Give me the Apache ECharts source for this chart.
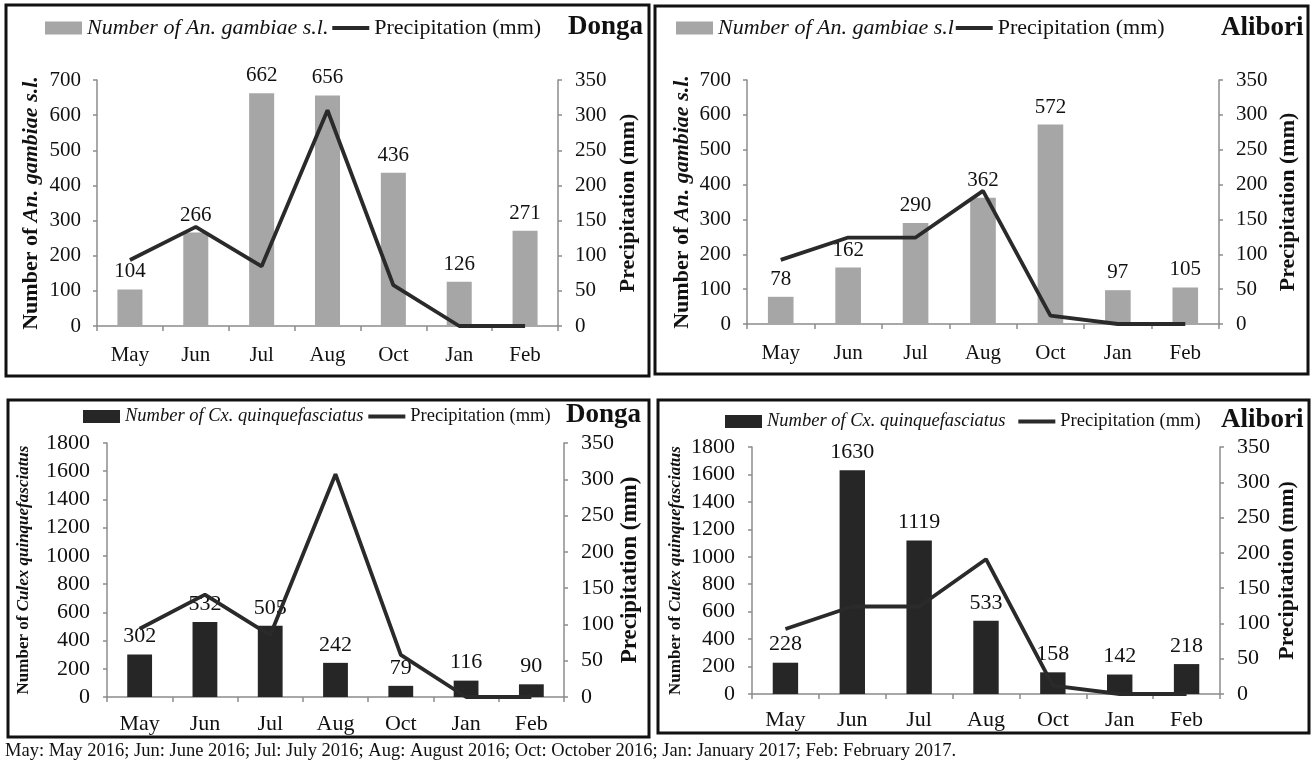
<!DOCTYPE html>
<html>
<head>
<meta charset="utf-8">
<script src="https://cdn.jsdelivr.net/npm/echarts@6/dist/echarts.min.js"></script>
<style>
html,body{margin:0;padding:0;background:#fff;}
#chart{width:1314px;height:768px;}
</style>
</head>
<body>
<div id="chart"></div>
<script>
// ---- data ----
const categories = ['May', 'Jun', 'Jul', 'Aug', 'Oct', 'Jan', 'Feb'];
const anDonga = [104, 266, 662, 656, 436, 126, 271];
const anAlibori = [78, 162, 290, 362, 572, 97, 105];
const cxDonga = [302, 532, 505, 242, 79, 116, 90];
const cxAlibori = [228, 1630, 1119, 533, 158, 142, 218];
const precipDonga = [94, 141, 85, 307, 58, 0, 0];
const precipAlibori = [92, 124, 124, 191, 12, 0, 0];
const anTicks = [0, 100, 200, 300, 400, 500, 600, 700];
const cxTicks = [0, 200, 400, 600, 800, 1000, 1200, 1400, 1600, 1800];
const precipTicks = [0, 50, 100, 150, 200, 250, 300, 350];
const footnote = 'May: May 2016; Jun: June 2016; Jul: July 2016; Aug: August 2016; Oct: October 2016; Jan: January 2017; Feb: February 2017.';

const FONT = '"Liberation Serif", "Times New Roman", serif';
const AXIS_GRAY = '#8c8c8c';
const INK = '#111';
const LINE_COLOR = '#2a2a2a';

const panels = [
  { grid: {left: 97, top: 80, width: 461, height: 246}, bars: anDonga, precip: precipDonga, ticks: anTicks,
    barName: 'Number of An. gambiae s.l.', barColor: '#a6a6a6', place: 'Donga',
    leftName: '{b|Number of }{bi|An. gambiae s.l.}', leftSize: 22, leftGap: 55, rightGap: 59, rightSize: 22,
    fs: 21, lblMargin: 16, xMargin: 19, rMargin: 17,
    legend: {left: 45, top: 17, fs: 22, gap: 2}, title: {left: 568, top: 14} },
  { grid: {left: 747, top: 80, width: 472, height: 244}, bars: anAlibori, precip: precipAlibori, ticks: anTicks,
    barName: 'Number of An. gambiae s.l', barColor: '#a6a6a6', place: 'Alibori',
    leftName: '{b|Number of }{bi|An. gambiae s.l.}', leftSize: 22, leftGap: 54, rightGap: 58, rightSize: 22,
    fs: 21, lblMargin: 16, xMargin: 19, rMargin: 17,
    legend: {left: 676, top: 17, fs: 22, gap: 0}, title: {left: 1221, top: 15} },
  { grid: {left: 107, top: 443, width: 457, height: 254}, bars: cxDonga, precip: precipDonga, ticks: cxTicks,
    barName: 'Number of Cx. quinquefasciatus', barColor: '#262626', place: 'Donga',
    leftName: '{b|Number of }{bi|Culex quinquefasciatus}', leftSize: 17, leftGap: 75, rightGap: 55, rightSize: 23,
    fs: 22, lblMargin: 17, xMargin: 16, rMargin: 17,
    legend: {left: 83, top: 407, fs: 18.5, gap: 3}, title: {left: 566, top: 402} },
  { grid: {left: 752, top: 447, width: 468, height: 247}, bars: cxAlibori, precip: precipAlibori, ticks: cxTicks,
    barName: 'Number of Cx. quinquefasciatus', barColor: '#262626', place: 'Alibori',
    leftName: '{b|Number of }{bi|Culex quinquefasciatus}', leftSize: 17, leftGap: 68, rightGap: 56, rightSize: 22,
    fs: 22, lblMargin: 17, xMargin: 15, rMargin: 17,
    legend: {left: 725, top: 412, fs: 18.5, gap: 11}, title: {left: 1221, top: 407} }
];

const grids = [], xAxes = [], yAxes = [], series = [], legends = [], titles = [];

panels.forEach((p, i) => {
  grids.push(Object.assign({containLabel: false, outerBoundsMode: 'none'}, p.grid));
  xAxes.push({
    type: 'category', gridIndex: i, data: categories,
    axisLine: {lineStyle: {color: AXIS_GRAY, width: 1.5}},
    axisTick: {show: true, length: 5, lineStyle: {color: AXIS_GRAY, width: 1.5}},
    axisLabel: {color: INK, fontFamily: FONT, fontSize: p.fs, margin: p.xMargin},
    splitLine: {show: false}
  });
  yAxes.push({
    type: 'value', gridIndex: i, position: 'left',
    min: p.ticks[0], max: p.ticks[p.ticks.length - 1], interval: p.ticks[1] - p.ticks[0],
    axisLine: {show: true, lineStyle: {color: AXIS_GRAY, width: 1.5}},
    axisTick: {show: true, length: 4, lineStyle: {color: AXIS_GRAY, width: 1.5}},
    axisLabel: {color: INK, fontFamily: FONT, fontSize: p.fs, margin: p.lblMargin, formatter: v => String(v)},
    splitLine: {show: false},
    name: p.leftName, nameLocation: 'middle', nameRotate: 90, nameGap: p.leftGap, nameMoveOverlap: false,
    nameTextStyle: {
      color: INK, fontFamily: FONT, fontSize: p.leftSize, fontWeight: 'bold',
      rich: {
        b: {fontFamily: FONT, fontSize: p.leftSize, fontWeight: 'bold', color: INK},
        bi: {fontFamily: FONT, fontSize: p.leftSize, fontWeight: 'bold', fontStyle: 'italic', color: INK}
      }
    }
  });
  yAxes.push({
    type: 'value', gridIndex: i, position: 'right',
    min: precipTicks[0], max: precipTicks[precipTicks.length - 1], interval: precipTicks[1] - precipTicks[0],
    axisLine: {show: true, lineStyle: {color: AXIS_GRAY, width: 1.5}},
    axisTick: {show: true, length: 4, lineStyle: {color: AXIS_GRAY, width: 1.5}},
    axisLabel: {color: INK, fontFamily: FONT, fontSize: p.fs, margin: p.rMargin, formatter: v => String(v)},
    splitLine: {show: false},
    name: 'Precipitation (mm)', nameLocation: 'middle', nameRotate: 90, nameGap: p.rightGap, nameMoveOverlap: false,
    nameTextStyle: {color: INK, fontFamily: FONT, fontSize: p.rightSize, fontWeight: 'bold'}
  });
  series.push({
    type: 'bar', name: p.barName, xAxisIndex: i, yAxisIndex: i * 2, data: p.bars,
    barWidth: '38%', itemStyle: {color: p.barColor},
    label: {show: true, position: 'top', distance: 7, color: INK, fontFamily: FONT, fontSize: p.fs},
    z: 2
  });
  series.push({
    type: 'line', name: 'Precipitation (mm)', xAxisIndex: i, yAxisIndex: i * 2 + 1, data: p.precip,
    symbol: 'none', showSymbol: false,
    lineStyle: {color: LINE_COLOR, width: 3.8}, itemStyle: {color: LINE_COLOR},
    z: 3
  });
  legends.push({
    left: p.legend.left, top: p.legend.top, orient: 'horizontal', itemGap: p.legend.gap, padding: 0,
    itemWidth: 37, itemHeight: 13,
    textStyle: {color: INK, fontFamily: FONT, fontSize: p.legend.fs},
    data: [
      {name: p.barName, icon: 'rect', textStyle: {fontStyle: 'italic', fontFamily: FONT, fontSize: p.legend.fs, color: INK}},
      {name: 'Precipitation (mm)', itemStyle: {opacity: 0}, lineStyle: {color: LINE_COLOR, width: 3.8, opacity: 1}}
    ],
    selectedMode: false
  });
  titles.push({
    text: p.place, left: p.title.left, top: p.title.top, padding: 0,
    textStyle: {color: INK, fontFamily: FONT, fontSize: 27, fontWeight: 'bold'}
  });
});

const chart = echarts.init(document.getElementById('chart'), null, {renderer: 'canvas'});
chart.setOption({
  animation: false,
  backgroundColor: '#fff',
  title: titles,
  legend: legends,
  grid: grids,
  xAxis: xAxes,
  yAxis: yAxes,
  series: series,
  graphic: [
    {type: 'rect', shape: {x: 6, y: 5, width: 643, height: 371}, style: {fill: 'none', stroke: INK, lineWidth: 3}, z: 100},
    {type: 'rect', shape: {x: 655, y: 6, width: 653, height: 368}, style: {fill: 'none', stroke: INK, lineWidth: 3}, z: 100},
    {type: 'rect', shape: {x: 8, y: 400, width: 641, height: 337}, style: {fill: 'none', stroke: INK, lineWidth: 3}, z: 100},
    {type: 'rect', shape: {x: 658, y: 400, width: 651, height: 333}, style: {fill: 'none', stroke: INK, lineWidth: 3}, z: 100},
    {type: 'text', left: 5, top: 742, style: {text: footnote, fill: INK, font: '18.5px "Liberation Serif", serif'}, z: 100}
  ]
});
</script>
</body>
</html>
